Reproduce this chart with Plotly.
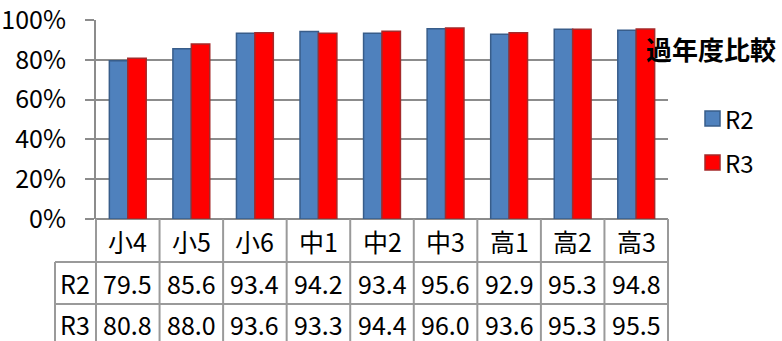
import plotly.graph_objects as go

# Data
categories = ["小4", "小5", "小6", "中1", "中2", "中3", "高1", "高2", "高3"]
series_names = ["R2", "R3"]
r2_values = [79.5, 85.6, 93.4, 94.2, 93.4, 95.6, 92.9, 95.3, 94.8]
r3_values = [80.8, 88.0, 93.6, 93.3, 94.4, 96.0, 93.6, 95.3, 95.5]
y_ticks = [0, 20, 40, 60, 80, 100]
y_tick_labels = ["0%", "20%", "40%", "60%", "80%", "100%"]
title_text = "過年度比較"

W, H = 782, 341
M_L, M_R, M_T, M_B = 96, 114, 20, 122
PW = W - M_L - M_R
PH = H - M_T - M_B

FONT = "Noto Sans CJK JP"
FS = 25
GRID = "#8c8c8c"
TABLE_LINE = "#9a9a9a"

fill_colors = ["#4f81bd", "#ff0000"]
edge_colors = ["#385d8a", "#a52a2a"]


def px_x(px):
    return (px - M_L) / PW


def px_y(py):
    return (H - M_B - py) / PH


fig = go.Figure()
for name, vals, fc, ec in zip(series_names, [r2_values, r3_values], fill_colors, edge_colors):
    fig.add_trace(go.Bar(
        x=list(range(len(categories))), y=vals, name=name,
        marker=dict(color=fc, line=dict(color=ec, width=1.5)),
        showlegend=False,
    ))

shapes = []
annotations = []
n = len(categories)


def text(x, y, s, xref="paper", yref="paper", xanchor="center", size=FS, bold=False):
    annotations.append(dict(
        x=x, y=y, xref=xref, yref=yref, text=f"<b>{s}</b>" if bold else s,
        showarrow=False, xanchor=xanchor, yanchor="middle",
        font=dict(family=FONT, size=size, color="#000000"),
    ))


# Data table below the plot: vertical cell borders (one per category edge)
for i in range(n + 1):
    xe = i / n
    shapes.append(dict(type="line", xref="paper", yref="paper",
                       x0=xe, x1=xe, y0=0, y1=px_y(345),
                       line=dict(color=TABLE_LINE, width=2)))
# Row-label column and horizontal row borders
shapes.append(dict(type="line", xref="paper", yref="paper",
                   x0=px_x(55), x1=px_x(55), y0=px_y(262), y1=px_y(345),
                   line=dict(color=TABLE_LINE, width=2)))
for py in (262, 304):
    shapes.append(dict(type="line", xref="paper", yref="paper",
                       x0=px_x(55), x1=1, y0=px_y(py), y1=px_y(py),
                       line=dict(color=TABLE_LINE, width=2)))

row_y = {"cat": px_y(240.5), "R2": px_y(283), "R3": px_y(324)}
for i, c in enumerate(categories):
    text(i, row_y["cat"], c, xref="x")
for name, vals in zip(series_names, [r2_values, r3_values]):
    text(px_x(75), row_y[name], name)
    for i, v in enumerate(vals):
        text(i, row_y[name], f"{v:.1f}", xref="x")

# Legend
for name, fc, ec, (y0, y1) in zip(series_names, fill_colors, edge_colors, [(111, 126), (155, 170)]):
    shapes.append(dict(type="rect", xref="paper", yref="paper",
                       x0=px_x(705), x1=px_x(720), y0=px_y(y1), y1=px_y(y0),
                       fillcolor=fc, line=dict(color=ec, width=1.5)))
    text(px_x(723), px_y((y0 + y1) / 2), name, xanchor="left", size=FS - 1)

# Title
text(px_x(711), px_y(48), title_text, size=26, bold=True)

fig.update_layout(
    template="none",
    width=W, height=H,
    margin=dict(l=M_L, r=M_R, t=M_T, b=M_B, pad=0),
    paper_bgcolor="white", plot_bgcolor="white",
    barmode="group", bargap=0.42, bargroupgap=0,
    shapes=shapes, annotations=annotations,
    font=dict(family=FONT, size=FS, color="#000000"),
    xaxis=dict(range=[-0.5, n - 0.5], showticklabels=False, showgrid=False,
               zeroline=False, showline=False, ticks=""),
    yaxis=dict(range=[0, 100], tickmode="array", tickvals=y_ticks, ticktext=y_tick_labels,
               showgrid=True, gridcolor=GRID, gridwidth=2, layer="below traces",
               zeroline=True, zerolinecolor=GRID, zerolinewidth=2,
               showline=True, linecolor=GRID, linewidth=2,
               ticks="outside", ticklen=9, tickcolor=GRID, tickwidth=2,
               ticklabelstandoff=14, ticklabeloverflow="allow",
               tickfont=dict(family=FONT, size=FS, color="#000000")),
)

fig.write_html("out.html")
